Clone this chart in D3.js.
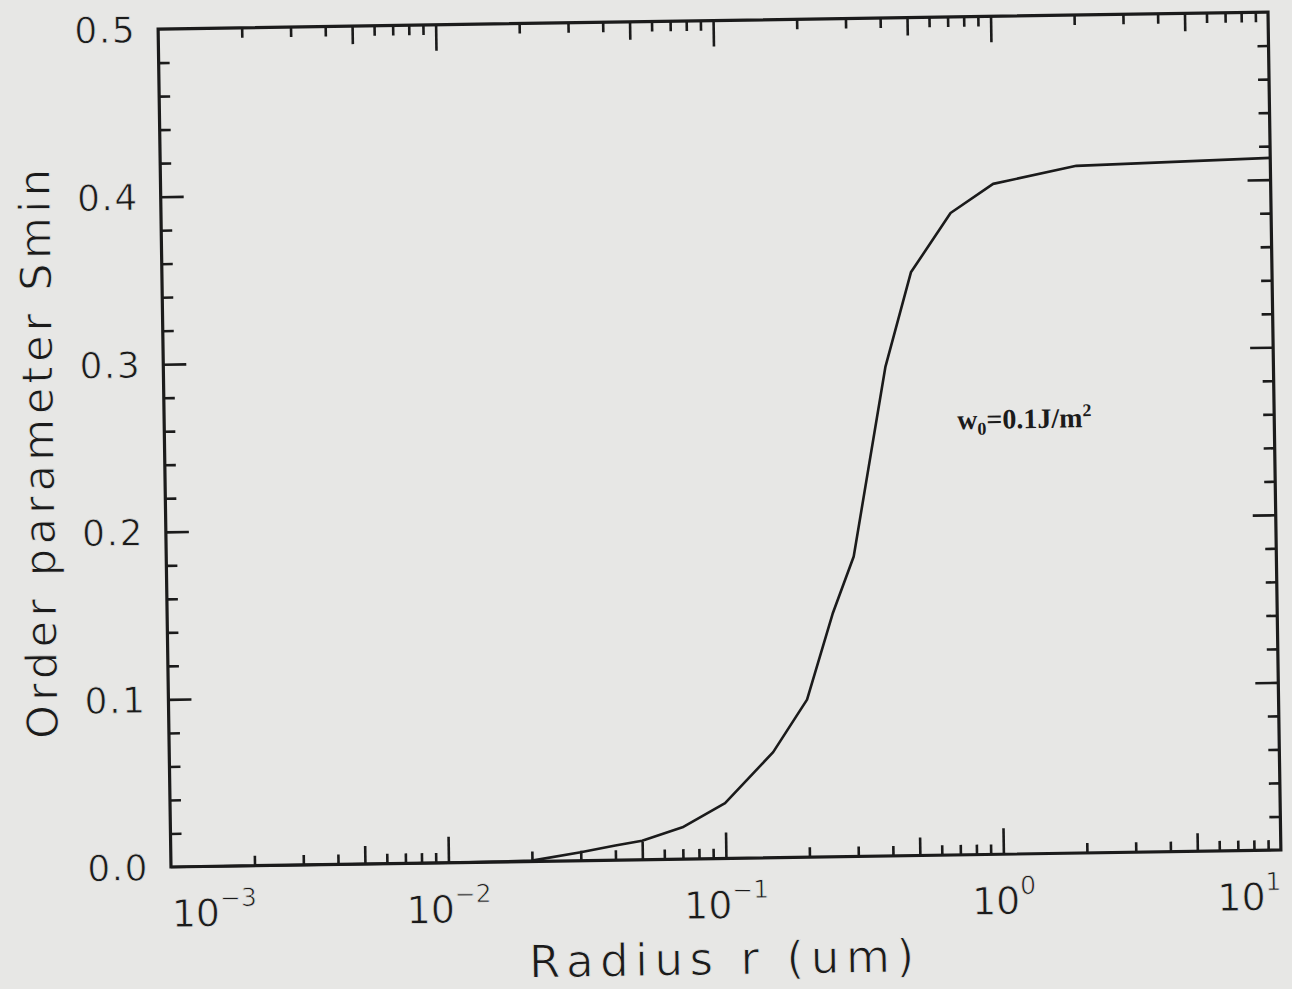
<!DOCTYPE html>
<html>
<head>
<meta charset="utf-8">
<script src="https://cdn.jsdelivr.net/npm/d3@7"></script>
<style>
  html, body { margin: 0; padding: 0; background: #e7e7e5; }
  svg { display: block; }
</style>
</head>
<body>
<svg id="chart" width="1292" height="989"></svg>
<script>
// Minimum order parameter versus particle radius
const radius = [0.001, 0.01, 0.02, 0.03, 0.04, 0.05, 0.07, 0.1, 0.15, 0.2, 0.25, 0.3, 0.4, 0.5, 0.7, 1.0, 2.0, 10];
const smin   = [0, 0, 0.0005, 0.005, 0.0087, 0.0114, 0.019, 0.033, 0.063, 0.094, 0.145, 0.179, 0.292, 0.348, 0.383, 0.400, 0.410, 0.413];

const decadeTicks = [1e-3, 1e-2, 1e-1, 1, 10];
const decadeExponents = ["\u22123", "\u22122", "\u22121", "0", "1"];
const sTicks = [0, 0.1, 0.2, 0.3, 0.4, 0.5];
const sTickLabels = ["0.0", "0.1", "0.2", "0.3", "0.4", "0.5"];
const xTitle = "Radius r (um)";
const yTitle = "Order parameter Smin";
const curveLabel = { base: "w", sub: "0", mid: "=0.1J/m", sup: "2", r: 0.72, s: 0.254 };

const ink = "#1b1b1b";
const paper = "#e7e7e5";
const plotL = 171, plotR = 1281, plotT = 29, plotB = 867;

const x = d3.scaleLog().domain([1e-3, 10]).range([plotL, plotR]);
const y = d3.scaleLinear().domain([0, 0.5]).range([plotB, plotT]);

const svg = d3.select("#chart");
// the printed page sits slightly askew
const g = svg.append("g").attr("transform", `rotate(-0.88, ${plotL}, ${plotB})`);

// log-axis subdivisions
const innerDecades = decadeTicks.slice(1, -1);
const midX = [], minorX = [];
decadeTicks.slice(0, -1).forEach(d => {
  for (let k = 2; k <= 9; k++) (k === 5 ? midX : minorX).push(d * k);
});
const majorS = sTicks.slice(1, -1);
const minorS = d3.range(0, 0.5001, 0.02).filter(v => Math.abs(v * 10 - Math.round(v * 10)) > 1e-6);

function xTickSet(values, size) {
  g.append("g").attr("transform", `translate(0,${plotB})`)
    .call(d3.axisBottom(x).tickValues(values).tickSize(-size).tickFormat(""))
    .call(a => a.select(".domain").remove());
  g.append("g").attr("transform", `translate(0,${plotT})`)
    .call(d3.axisTop(x).tickValues(values).tickSize(-size).tickFormat(""))
    .call(a => a.select(".domain").remove());
}
function yTickSet(values, size) {
  g.append("g").attr("transform", `translate(${plotL},0)`)
    .call(d3.axisLeft(y).tickValues(values).tickSize(-size).tickFormat(""))
    .call(a => a.select(".domain").remove());
  g.append("g").attr("transform", `translate(${plotR},0)`)
    .call(d3.axisRight(y).tickValues(values).tickSize(-size).tickFormat(""))
    .call(a => a.select(".domain").remove());
}
xTickSet(minorX, 10);
xTickSet(midX, 18);
xTickSet(innerDecades, 26);
yTickSet(minorS, 11);
yTickSet(majorS, 23);
g.selectAll(".tick line").attr("stroke", ink).attr("stroke-width", 2.6);

// frame
g.append("rect")
  .attr("x", plotL).attr("y", plotT)
  .attr("width", plotR - plotL).attr("height", plotB - plotT)
  .attr("fill", "none").attr("stroke", ink).attr("stroke-width", 3.2);

// curve
const pts = radius.map((r, i) => ({ r, s: smin[i] }));
g.append("path")
  .datum(pts)
  .attr("fill", "none")
  .attr("stroke", ink)
  .attr("stroke-width", 2.6)
  .attr("stroke-linejoin", "round")
  .attr("d", d3.line().x(d => x(d.r)).y(d => y(d.s)));

const sans = "'DejaVu Sans', sans-serif";
// thin the sans lettering slightly by edging it with the paper colour
function thin(sel, w) {
  sel.attr("stroke", paper).attr("stroke-width", w).attr("paint-order", "normal");
}

// y tick labels
g.append("g").selectAll("text")
  .data(sTicks)
  .join("text")
  .attr("x", plotL - 22)
  .attr("y", d => y(d))
  .attr("dy", "0.36em")
  .attr("text-anchor", "end")
  .attr("font-family", sans)
  .attr("font-size", 36)
  .attr("letter-spacing", 1.5)
  .attr("fill", ink)
  .call(thin, 0.7)
  .text((d, i) => sTickLabels[i]);

// x tick labels with exponents
const xl = g.append("g").selectAll("text")
  .data(decadeTicks)
  .join("text")
  .attr("x", d => x(d))
  .attr("y", plotB + 60)
  .attr("text-anchor", (d, i) => i === 0 ? "start" : (i === decadeTicks.length - 1 ? "end" : "middle"))
  .attr("font-family", sans)
  .attr("font-size", 38)
  .attr("fill", ink)
  .call(thin, 0.7);
xl.append("tspan").text("10");
xl.append("tspan").attr("font-size", 25).attr("dy", -20).text((d, i) => decadeExponents[i]);

// axis titles
g.append("text")
  .attr("x", (plotL + plotR) / 2 - 6)
  .attr("y", 983)
  .attr("text-anchor", "middle")
  .attr("font-family", sans)
  .attr("font-size", 45)
  .attr("textLength", 385)
  .attr("lengthAdjust", "spacing")
  .attr("fill", ink)
  .call(thin, 0.9)
  .text(xTitle);

g.append("text")
  .attr("transform", `translate(60, ${(plotT + plotB) / 2 + 4}) rotate(-90)`)
  .attr("text-anchor", "middle")
  .attr("font-family", sans)
  .attr("font-size", 43)
  .attr("textLength", 570)
  .attr("lengthAdjust", "spacing")
  .attr("fill", ink)
  .call(thin, 0.9)
  .text(yTitle);

// curve annotation
const note = g.append("text")
  .attr("x", x(curveLabel.r))
  .attr("y", y(curveLabel.s))
  .attr("font-family", "'Liberation Serif', 'Times New Roman', serif")
  .attr("font-size", 28)
  .attr("font-weight", "bold")
  .attr("fill", ink);
note.append("tspan").text(curveLabel.base);
note.append("tspan").attr("font-size", 18).attr("dy", 6).text(curveLabel.sub);
note.append("tspan").attr("dy", -6).text(curveLabel.mid);
note.append("tspan").attr("font-size", 18).attr("dy", -11).text(curveLabel.sup);
</script>
</body>
</html>
